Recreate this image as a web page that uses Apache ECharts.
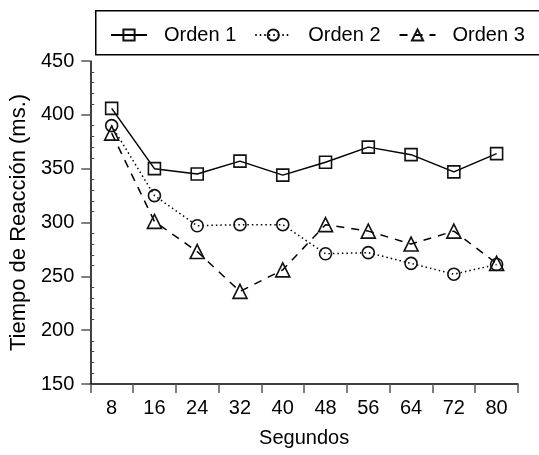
<!DOCTYPE html>
<html>
<head>
<meta charset="utf-8">
<script src="https://cdn.jsdelivr.net/npm/echarts@6/dist/echarts.min.js"></script>
<style>html,body{margin:0;padding:0;background:#fff}#c{width:539px;height:455px}</style>
</head>
<body>
<div id="c"></div>
<script>
const categories = ['8','16','24','32','40','48','56','64','72','80'];
const orden1 = [406, 350, 345, 357, 344, 356, 370, 363, 347, 364];
const orden2 = [390, 325, 297, 298, 298, 271, 272, 262, 252, 261];
const orden3 = [383, 301, 273, 236, 256, 298, 292, 280, 292, 262];
const seriesNames = ['Orden 1', 'Orden 2', 'Orden 3'];
const yTicks = {min: 150, max: 450, interval: 50};

const FONT = 'Liberation Sans, Arial, sans-serif';
const chart = echarts.init(document.getElementById('c'), null, {renderer: 'canvas'});

function mk(name, data, symbol, size, lineType) {
  return {
    name: name, type: 'line', data: data, yAxisIndex: 0,
    symbol: symbol, symbolSize: size, showAllSymbol: true,
    lineStyle: {color: '#000', width: 1.5, type: lineType},
    itemStyle: {color: 'rgba(0,0,0,0)', borderColor: '#111', borderWidth: 1.6},
    emphasis: {disabled: true},
    animation: false, z: 3
  };
}

chart.setOption({
  animation: false,
  grid: {left: 86, right: 21, top: 61, bottom: 71, containLabel: false},
  graphic: [{
    type: 'rect', left: 95, top: 10, z: 0,
    shape: {width: 450, height: 44},
    style: {fill: '#fff', stroke: '#000', lineWidth: 1.5}
  }],
  legend: {
    left: 110, top: 25, padding: 0, itemGap: 18,
    itemWidth: 36, itemHeight: 14,
    data: seriesNames,
    textStyle: {fontFamily: FONT, fontSize: 20, color: '#000', padding: [0, 0, 0, 12]},
    z: 5
  },
  xAxis: {
    type: 'category', data: categories, boundaryGap: true,
    name: 'Segundos', nameLocation: 'middle', nameGap: 44,
    nameTextStyle: {fontFamily: FONT, fontSize: 20, color: '#000'},
    axisLine: {lineStyle: {color: '#000', width: 1.5}},
    axisTick: {show: true, length: 9, lineStyle: {color: '#555', width: 1.5}},
    axisLabel: {fontFamily: FONT, fontSize: 20, color: '#000', margin: 14},
    splitLine: {show: false}
  },
  yAxis: [{
    type: 'value', min: yTicks.min, max: yTicks.max, interval: yTicks.interval,
    name: 'Tiempo de Reacción (ms.)', nameLocation: 'middle', nameGap: 59,
    nameTextStyle: {fontFamily: FONT, fontSize: 22, color: '#000'},
    axisLine: {show: true, lineStyle: {color: '#000', width: 1.5}},
    axisTick: {show: true, length: 9, lineStyle: {color: '#555', width: 1.5}},
    axisLabel: {fontFamily: FONT, fontSize: 20, color: '#000', margin: 16},
    splitLine: {show: false}
  }, {
    type: 'value', min: yTicks.min, max: yTicks.max, interval: yTicks.interval,
    position: 'left',
    axisLine: {show: false},
    axisTick: {show: false, inside: true},
    minorTick: {show: true, splitNumber: 5, length: 4, lineStyle: {color: '#444', width: 1}},
    axisLabel: {show: false},
    splitLine: {show: false}
  }],
  series: [
    mk(seriesNames[0], orden1, 'rect', 12, 'solid'),
    mk(seriesNames[1], orden2, 'circle', 12, [1.5, 3]),
    mk(seriesNames[2], orden3, 'triangle', 14, [8, 7])
  ]
});
</script>
</body>
</html>
